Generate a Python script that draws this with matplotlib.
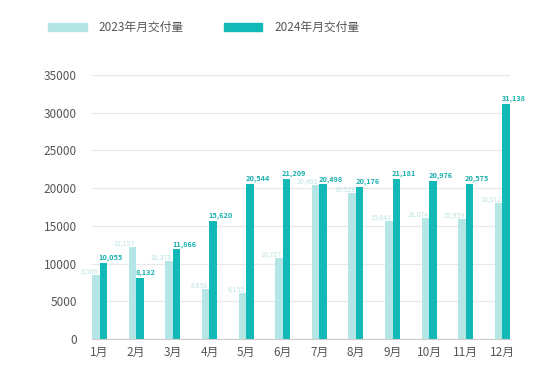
import matplotlib
matplotlib.use("Agg")
import matplotlib.pyplot as plt
from matplotlib.patches import Rectangle
import numpy as np

plt.rcParams['font.family'] = ['Noto Sans CJK SC', 'DejaVu Sans']

months = ['1月', '2月', '3月', '4月', '5月', '6月', '7月', '8月', '9月', '10月', '11月', '12月']
vals_2023 = [8506, 12157, 10378, 6658, 6155, 10707, 20463, 19329, 15641, 16074, 15959, 18012]
vals_2024 = [10055, 8132, 11866, 15620, 20544, 21209, 20498, 20176, 21181, 20976, 20575, 31138]
series_names = ['2023年月交付量', '2024年月交付量']
yticks = [0, 5000, 10000, 15000, 20000, 25000, 30000, 35000]

c_light = '#b4e6e5'
c_dark = '#12b9b6'
c_light_txt = '#bde5e4'
c_dark_txt = '#19b0ad'

fig = plt.figure(figsize=(5.5, 3.78), dpi=100)
ax = fig.add_axes([92/550, 1-339/378, (510-92)/550, (339-75)/378])

x = np.arange(len(months))
w = 0.205
ax.bar(x - w/2, vals_2023, width=w, color=c_light, zorder=2)
ax.bar(x + w/2, vals_2024, width=w, color=c_dark, zorder=2)

for xi, v in zip(x, vals_2023):
    ax.text(xi - 0.03, v - 80, f'{v:,}', ha='right', va='bottom',
            fontsize=5, color=c_light_txt, zorder=3)
for xi, v in zip(x, vals_2024):
    ax.text(xi - 0.02, v + 250, f'{v:,}', ha='left', va='bottom',
            fontsize=5.3, color=c_dark_txt, fontweight='bold', zorder=3)

ax.set_xlim(-w, len(months) - 1 + w)
ax.set_ylim(0, 35000)
ax.set_yticks(yticks)
ax.set_yticklabels([str(t) for t in yticks])
ax.set_xticks(x)
ax.set_xticklabels(months)
ax.tick_params(axis='both', length=0, labelsize=8.5, colors='#555555')
ax.tick_params(axis='y', pad=11)
ax.tick_params(axis='x', pad=5)
for s in ['top', 'right', 'left']:
    ax.spines[s].set_visible(False)
ax.spines['bottom'].set_color('#cccccc')
ax.grid(axis='y', color='#e8e8e8', linewidth=0.9, zorder=0)
ax.set_axisbelow(True)

# legend
for (x0, x1, tx), col, name in zip([(48, 87, 98), (224, 262, 274)], [c_light, c_dark], series_names):
    fig.patches.append(Rectangle((x0/550, 1-31/378), (x1-x0)/550, 8/378,
                                 transform=fig.transFigure, color=col))
    fig.text(tx/550, 1-27/378, name, fontsize=8.5, color='#555555', va='center', ha='left')

fig.savefig('out.png', dpi=100)
